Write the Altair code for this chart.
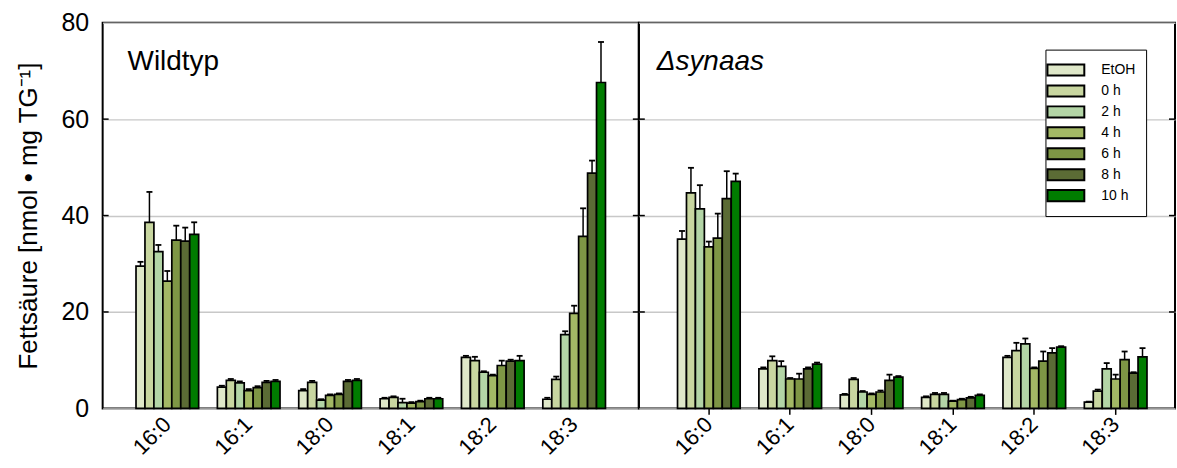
import altair as alt
import pandas as pd

fatty_acids = ["16:0", "16:1", "18:0", "18:1", "18:2", "18:3"]
times = ["EtOH", "0 h", "2 h", "4 h", "6 h", "8 h", "10 h"]
colors = ["#dfe8c9", "#c8d6a0", "#b3d5a6", "#a3b865", "#7e9645", "#5b6b35", "#007c00"]
panel_labels = ["Wildtyp", "\u0394synaas"]
y_ticks = [0, 20, 40, 60, 80]

# Wildtyp: rows = fatty acids, columns = times
wt_values = [
    [29.5, 38.6, 32.5, 26.4, 34.9, 34.7, 36.1],
    [4.4, 5.8, 5.3, 3.7, 4.3, 5.4, 5.6],
    [3.7, 5.4, 1.7, 2.7, 2.9, 5.6, 5.8],
    [2.0, 2.3, 1.2, 1.1, 1.4, 2.0, 2.0],
    [10.6, 9.9, 7.5, 6.8, 8.9, 9.8, 9.9],
    [1.9, 6.0, 15.3, 19.7, 35.7, 48.8, 67.6],
]
wt_errors = [
    [0.9, 6.3, 1.4, 2.1, 3.0, 2.8, 2.5],
    [0.3, 0.3, 0.3, 0.3, 0.3, 0.3, 0.3],
    [0.3, 0.3, 0.2, 0.2, 0.2, 0.3, 0.3],
    [0.2, 0.2, 0.8, 0.2, 0.2, 0.2, 0.2],
    [0.3, 0.8, 0.2, 0.2, 1.0, 0.3, 1.0],
    [0.3, 0.6, 0.7, 1.6, 5.8, 2.6, 8.4],
]
# Δsynaas
ko_values = [
    [35.1, 44.7, 41.4, 33.5, 35.3, 43.5, 47.1],
    [8.2, 9.9, 8.7, 6.1, 6.1, 8.2, 9.2],
    [2.8, 6.0, 3.4, 2.9, 3.4, 5.8, 6.5],
    [2.3, 2.9, 2.9, 1.5, 1.8, 2.2, 2.7],
    [10.6, 12.0, 13.4, 8.3, 9.8, 11.5, 12.7],
    [1.3, 3.6, 8.2, 6.1, 10.1, 7.3, 10.7],
]
ko_errors = [
    [1.7, 5.2, 4.9, 1.1, 5.1, 5.7, 1.6],
    [0.3, 0.9, 1.1, 0.2, 1.1, 0.3, 0.3],
    [0.2, 0.3, 0.2, 0.2, 0.3, 1.2, 0.2],
    [0.2, 0.3, 0.3, 0.1, 0.2, 0.2, 0.2],
    [0.3, 1.6, 1.1, 0.2, 2.0, 1.0, 0.2],
    [0.1, 0.3, 1.2, 0.9, 1.7, 0.2, 1.8],
]

FONT = "Liberation Sans"
H = 387


def make_df(values, errors):
    rows = []
    for i, fa in enumerate(fatty_acids):
        for j, t in enumerate(times):
            rows.append({"fa": fa, "time": t, "value": values[i][j],
                         "hi": values[i][j] + errors[i][j]})
    return pd.DataFrame(rows)


def panel(values, errors, label, width, align, first):
    df = make_df(values, errors)
    xaxis = alt.Axis(
        title=None, labelAngle=315, labelAlign="right", labelBaseline="middle",
        labelFontSize=22, labelFont=FONT, labelColor="black",
        labelPadding=6 if not first else 12,
        domain=False, ticks=not first, tickSize=6, tickColor="black", tickWidth=1.5,
    )
    if first:
        yaxis = alt.Axis(
            title="Fetts\u00e4ure [nmol \u2022 mg TG\u207b\u00b9]", values=y_ticks,
            labelFontSize=25, labelFont=FONT, labelColor="black", labelPadding=14,
            ticks=False, domain=False, grid=True, gridColor="#c8c8c8", gridWidth=1.5,
            titleFont=FONT, titleFontSize=26, titleFontWeight="normal", titleColor="black",
            titleX=-74, titleY=H / 2, titleBaseline="middle", titleAngle=270,
            titleAnchor="middle",
        )
    else:
        yaxis = alt.Axis(
            title=None, values=y_ticks, labels=False, ticks=False, domain=False,
            grid=True, gridColor="#c8c8c8", gridWidth=1.5,
        )
    xsc = alt.Scale(paddingInner=0.23, paddingOuter=0.41, align=align)
    base = alt.Chart(df).encode(
        x=alt.X("fa:N", sort=fatty_acids, scale=xsc, axis=xaxis),
        xOffset=alt.XOffset("time:N", sort=times,
                            scale=alt.Scale(paddingInner=0, paddingOuter=0)),
    )
    bars = base.mark_bar(stroke="black", strokeWidth=1.7).encode(
        y=alt.Y("value:Q", scale=alt.Scale(domain=[0, 80], nice=False), axis=yaxis),
        color=alt.Color(
            "time:N", sort=times, scale=alt.Scale(domain=times, range=colors),
            legend=alt.Legend(
                orient="none", legendX=946, legendY=27, title=None,
                symbolType="M-2,-0.6H2V0.6H-2Z", symbolSize=342,
                symbolStrokeColor="black", symbolStrokeWidth=2, symbolOpacity=1,
                labelFont=FONT, labelFontSize=14, labelColor="black", labelOffset=25,
                strokeColor="black", fillColor="white", padding=10, rowPadding=0,
                cornerRadius=0,
            ),
        ),
    )
    rules = base.mark_rule(color="black", strokeWidth=1.5).encode(
        y="value:Q", y2="hi:Q")
    caps = base.mark_point(shape="M-1,0H1", size=36, filled=False, color="black",
                           strokeWidth=1.8, opacity=1).encode(y="hi:Q")
    tick_df = pd.DataFrame({"v": y_ticks[1:-1]})
    ticks_l = alt.Chart(tick_df).mark_rule(color="black", strokeWidth=1.5).encode(
        y="v:Q", x=alt.value(0), x2=alt.value(6))
    ticks_r = alt.Chart(tick_df).mark_rule(color="black", strokeWidth=1.5).encode(
        y="v:Q", x=alt.value(width - 6), x2=alt.value(width))
    txt = alt.Chart(pd.DataFrame({"t": [label]})).mark_text(
        align="left", baseline="alphabetic", fontSize=28, font=FONT,
        fontStyle="normal" if first else "italic", color="black",
    ).encode(text="t:N", x=alt.value(25 if first else 18), y=alt.value(47))
    return alt.layer(bars, rules, caps, ticks_l, ticks_r, txt).properties(
        width=width, height=H)


left = panel(wt_values, wt_errors, panel_labels[0], 538, 0.5, True)
right = panel(ko_values, ko_errors, panel_labels[1], 538, 0.58, False)

chart = alt.hconcat(left, right, spacing=0, bounds="flush").properties(
    padding={"left": 14, "top": 9, "right": 0, "bottom": 0},
).configure(background="white").configure_view(stroke="black", strokeWidth=2)

chart.save("out.html", embed_options={"renderer": "svg", "actions": False})
